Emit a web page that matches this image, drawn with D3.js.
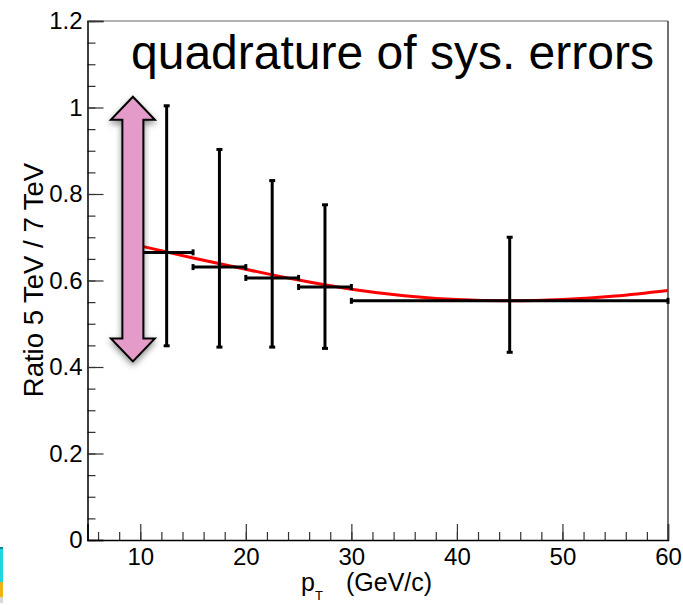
<!DOCTYPE html>
<html>
<head>
<meta charset="utf-8">
<script src="https://cdn.jsdelivr.net/npm/d3@7"></script>
<style>
  body { margin: 0; background: #fff; }
  svg { display: block; font-family: "Liberation Sans", Arial, Helvetica, sans-serif; }
</style>
</head>
<body>
<div id="chart-area"></div>
<script>
// pT bins and ratio values with quadrature sys. errors
const binLo = [10, 15, 20, 25, 30];
const binHi = [15, 20, 25, 30, 60];
const binCenter = [12.5, 17.5, 22.5, 27.5, 45];
const ratio = [0.665, 0.631, 0.606, 0.585, 0.553];
const sysLo = [0.449, 0.446, 0.446, 0.443, 0.434];
const sysHi = [1.004, 0.903, 0.831, 0.775, 0.700];

// red fit curve
const fitX = [10, 15, 20, 25, 30, 35, 40, 45, 50, 55, 60];
const fitY = [0.680, 0.652, 0.626, 0.601, 0.580, 0.565, 0.556, 0.553, 0.556, 0.564, 0.577];

const xTicks = [10, 20, 30, 40, 50, 60];
const yTicks = [0, 0.2, 0.4, 0.6, 0.8, 1, 1.2];

// annotation arrow span (data units)
const arrowX = 9.3;
const arrowSpan = [0.413, 1.025];

const W = 683, H = 605;
const margin = {top: 21, right: 15, bottom: 65, left: 87.5},
      width = W - margin.left - margin.right,
      height = H - margin.top - margin.bottom;

const svg = d3.select('#chart-area').append('svg')
  .attr('width', W)
  .attr('height', H)

const defs = svg.append('defs')
defs.append('filter').attr('id', 'shadow')
  .attr('x', '-50%').attr('y', '-20%').attr('width', '200%').attr('height', '140%')
  .append('feDropShadow')
  .attr('dx', 0).attr('dy', 3).attr('stdDeviation', 3)
  .attr('flood-color', '#000').attr('flood-opacity', 0.45)

// stray coloured strip at the bottom-left edge of the screenshot
svg.append('rect').attr('x', 0).attr('y', 547).attr('width', 3).attr('height', 35).attr('fill', '#1cd6e2')
svg.append('rect').attr('x', 0).attr('y', 547).attr('width', 3).attr('height', 2).attr('fill', '#0d8a8f')
svg.append('rect').attr('x', 0).attr('y', 582).attr('width', 3).attr('height', 15).attr('fill', '#f0b412')
svg.append('rect').attr('x', 0).attr('y', 597).attr('width', 3).attr('height', 6).attr('fill', '#d8d8d0')

const g = svg.append('g')
  .attr("transform", `translate(${margin.left}, ${margin.top})`)

const x = d3.scaleLinear().domain([5, 60]).range([0, width]);
const y = d3.scaleLinear().domain([0, 1.2]).range([height, 0]);

// frame: top and right
g.append('line').attr('x1', 0).attr('x2', width).attr('y1', 0).attr('y2', 0)
  .attr('stroke', '#666').attr('stroke-width', 1.2)
g.append('line').attr('x1', width).attr('x2', width).attr('y1', 0).attr('y2', height)
  .attr('stroke', '#111').attr('stroke-width', 1.2)

// minor ticks
g.append('g').attr('class', 'minor')
  .call(d3.axisLeft(y).tickValues(d3.range(0, 1.2001, 0.05)).tickSize(-8).tickFormat(''))
g.append('g').attr('class', 'minor')
  .attr('transform', `translate(0, ${height})`)
  .call(d3.axisBottom(x).tickValues(d3.range(6, 60, 2)).tickSize(-8).tickFormat(''))

// major ticks + labels
const yAxis = g.append('g')
  .call(d3.axisLeft(y).tickValues(yTicks).tickSize(-16).tickPadding(5)
    .tickFormat(d => d3.format('~g')(d)))
const xAxis = g.append('g')
  .attr('transform', `translate(0, ${height})`)
  .call(d3.axisBottom(x).tickValues(xTicks).tickSize(-16).tickPadding(8))

g.selectAll('.tick line').attr('stroke', '#333').attr('stroke-width', 1.2)
g.selectAll('.domain').attr('stroke', '#000').attr('stroke-width', 1.5)
g.selectAll('.minor .domain').remove()
g.selectAll('.tick text').attr('font-size', 24).attr('fill', '#000')
  .attr('font-family', '"Liberation Sans", Arial, sans-serif')
xAxis.selectAll('.tick text').attr('dy', '0.71em').attr('y', 8)

// fit curve
const line = d3.line()
  .x((d, i) => x(fitX[i]))
  .y(d => y(d))
  .curve(d3.curveNatural)
g.append('path').datum(fitY)
  .attr('d', line)
  .attr('fill', 'none')
  .attr('stroke', '#f00')
  .attr('stroke-width', 3)

// error bars
const pts = binCenter.map((c, i) => ({c, lo: binLo[i], hi: binHi[i], v: ratio[i], el: sysLo[i], eh: sysHi[i]}))
const bars = g.append('g').selectAll('g').data(pts).enter().append('g')
  .attr('stroke', '#000').attr('stroke-width', 3)
bars.append('line')
  .attr('x1', d => x(d.lo)).attr('x2', d => x(d.hi))
  .attr('y1', d => y(d.v)).attr('y2', d => y(d.v))
bars.append('line')
  .attr('x1', d => x(d.c)).attr('x2', d => x(d.c))
  .attr('y1', d => y(d.el)).attr('y2', d => y(d.eh))
// end caps
bars.each(function(d) {
  const b = d3.select(this)
  ;[d.el, d.eh].forEach(e => b.append('line')
    .attr('x1', x(d.c) - 3).attr('x2', x(d.c) + 3)
    .attr('y1', y(e)).attr('y2', y(e)))
  ;[d.lo, d.hi].forEach(e => b.append('line')
    .attr('x1', x(e)).attr('x2', x(e))
    .attr('y1', y(d.v) - 3).attr('y2', y(d.v) + 3))
})

// double headed arrow
const ax = x(arrowX), yTop = y(arrowSpan[1]), yBot = y(arrowSpan[0])
const bw = 10.5, hw = 22, hh = 23
const arrowPts = [
  [ax, yTop], [ax + hw, yTop + hh], [ax + bw, yTop + hh],
  [ax + bw, yBot - hh], [ax + hw, yBot - hh], [ax, yBot],
  [ax - hw, yBot - hh], [ax - bw, yBot - hh], [ax - bw, yTop + hh],
  [ax - hw, yTop + hh]
]
g.append('path')
  .attr('d', 'M' + arrowPts.map(p => p.join(',')).join('L') + 'Z')
  .attr('fill', '#e59bc9')
  .attr('stroke', '#000')
  .attr('stroke-width', 2)
  .attr('stroke-linejoin', 'miter')
  .attr('filter', 'url(#shadow)')

// annotation
svg.append('text')
  .attr('x', 131).attr('y', 68.5)
  .attr('font-size', 48)
  .text('quadrature of sys. errors')

// axis titles
svg.append('text')
  .attr('transform', `translate(43, 280) rotate(-90)`)
  .attr('text-anchor', 'middle')
  .attr('font-size', 27.5)
  .text('Ratio 5 TeV / 7 TeV')

const xt = svg.append('text').attr('y', 591).attr('font-size', 25)
xt.append('tspan').attr('x', 301).text('p')
xt.append('tspan').attr('font-size', 13).attr('dy', 9).text('T')
xt.append('tspan').attr('x', 346).attr('dy', -9).text('(GeV/c)')
</script>
</body>
</html>
